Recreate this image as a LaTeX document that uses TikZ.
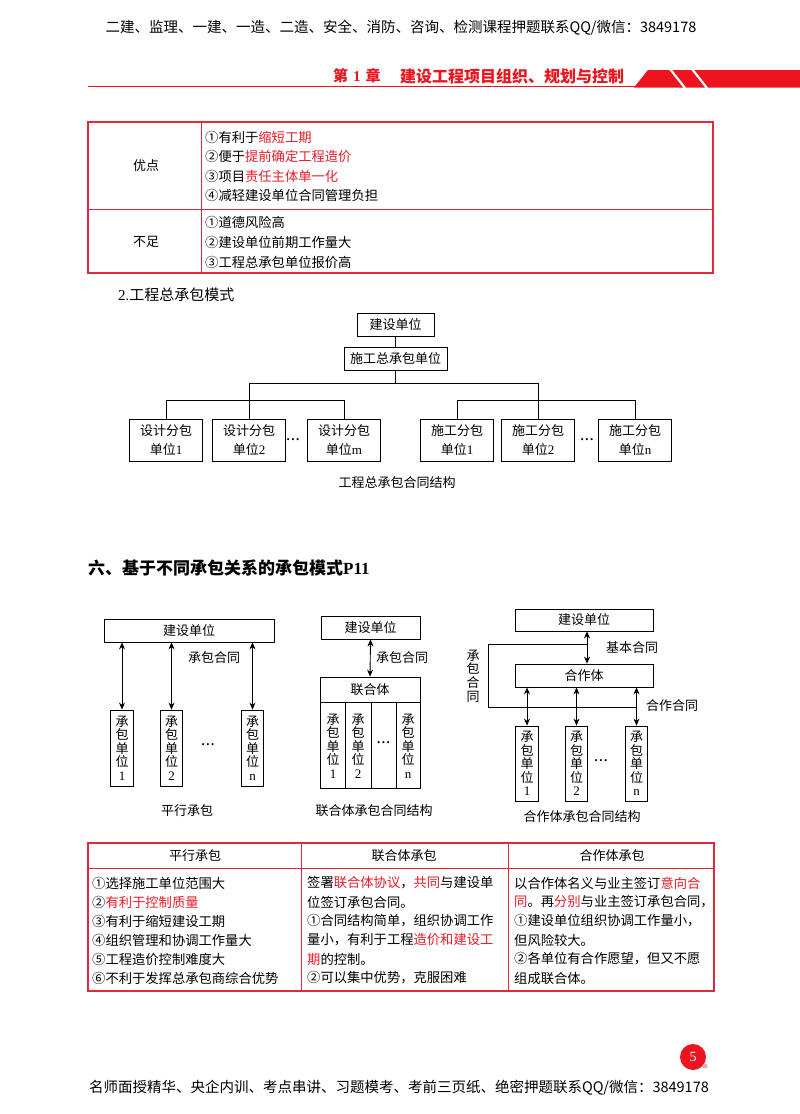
\documentclass[tikz,border=0pt]{standalone}
\usepackage{fontspec}
\setmainfont{Noto Sans CJK SC}
\newfontfamily\lat{Liberation Serif}
\usetikzlibrary{arrows.meta}
\definecolor{hl}{RGB}{232,28,40}
\definecolor{bd}{RGB}{226,40,60}
\definecolor{band}{RGB}{236,20,30}
\newcommand\hl[1]{\textcolor{hl}{#1}}
\newcommand\fsz[1]{\fontsize{#1}{#1}\selectfont}
\newcommand\dotsrow{\textbf{\lat .\hspace{1.6pt}.\hspace{1.6pt}.}}
\tikzset{
  tbox/.style={draw, line width=0.8pt, inner sep=0pt, align=center, font=\fontsize{13}{19}\selectfont},
  vbox/.style={draw, line width=0.8pt, inner sep=0pt, align=center, minimum width=22.5pt, font=\fontsize{13}{13.6}\selectfont},
  vtxt/.style={inner sep=0pt, align=center, font=\fontsize{13}{13.6}\selectfont},
  arr/.style={{Stealth[length=7pt,width=6pt]}-{Stealth[length=7pt,width=6pt]}, line width=0.9pt},
  lnst/.style={line width=0.8pt},
  txt/.style={inner sep=0pt, font=\fsz{13}},
  dotst/.style={inner sep=0pt, font=\fsz{13}},
  ttxt/.style={inner sep=0pt, font=\fsz{13.3}, anchor=west},
  captxt/.style={inner sep=0pt, font=\fsz{13}},
}
\begin{document}
\begin{tikzpicture}[x=1pt,y=-1pt]
\fill[white] (0,0) rectangle (800,1114);
\useasboundingbox (0,0) rectangle (800,1114);

% ---------- header ----------
\node[inner sep=0pt, font=\fsz{14.5}] (toptext) at (401,28) {二建、监理、一建、一造、二造、安全、消防、咨询、检测课程押题联系QQ/微信：3849178};
\draw[band, line width=1.5pt] (88,86.5) -- (640,86.5);
\fill[band] (634,87.5) -- (648,70) -- (800,70) -- (800,87.5) -- cycle;
\draw[white, line width=2.2pt] (670,69) -- (685,88);
\draw[white, line width=2.2pt] (692,69) -- (707,88);
\node[inner sep=0pt, anchor=west, text=band, font=\fsz{15}\bfseries] (chapno) at (333,76) {第\hspace{5pt}{\lat 1}\hspace{5pt}章};
\node[inner sep=0pt, anchor=west, text=band, font=\fsz{16}\bfseries] (chaptitle) at (400,76) {建设工程项目组织、规划与控制};

% ---------- table 1 ----------
\draw[bd, line width=1.2pt] (88,122) rectangle (713,273);
\draw[bd, line width=0.9pt] (88,209) -- (713,209);
\draw[bd, line width=0.9pt] (201,122) -- (201,273);
\node[txt] (yd) at (146,166) {优点};
\node[txt] (bz) at (146,242) {不足};
\node[ttxt] (y1) at (205,137) {①有利于\hl{缩短工期}};
\node[ttxt] (y2) at (205,156) {②便于\hl{提前确定工程造价}};
\node[ttxt] (y3) at (205,176) {③项目\hl{责任主体单一化}};
\node[ttxt] (y4) at (205,195) {④减轻建设单位合同管理负担};
\node[ttxt] (b1) at (205,222) {①道德风险高};
\node[ttxt] (b2) at (205,242) {②建设单位前期工作量大};
\node[ttxt] (b3) at (205,262) {③工程总承包单位报价高};

% ---------- diagram 1 ----------
\node[inner sep=0pt, anchor=west, font=\fsz{15}] (h2) at (118,295) {{\lat 2.}工程总承包模式};
\node[tbox, minimum width=77, minimum height=23] (js1) at (395.5,324.5) {建设单位};
\node[tbox, minimum width=103, minimum height=23] (sg) at (395.5,359) {施工总承包单位};
\node[tbox, minimum width=73, minimum height=42] (d1) at (166,440) {设计分包\\单位{\lat 1}};
\node[tbox, minimum width=73, minimum height=42] (d2) at (249,440) {设计分包\\单位{\lat 2}};
\node[tbox, minimum width=73, minimum height=42] (dm) at (344,440) {设计分包\\单位{\lat m}};
\node[tbox, minimum width=73, minimum height=42] (s1) at (457,440) {施工分包\\单位{\lat 1}};
\node[tbox, minimum width=73, minimum height=42] (s2) at (538,440) {施工分包\\单位{\lat 2}};
\node[tbox, minimum width=73, minimum height=42] (sn) at (635,440) {施工分包\\单位{\lat n}};
\node[dotst] (dots1) at (293,440) {\dotsrow};
\node[dotst] (dots2) at (587,440) {\dotsrow};
\coordinate (busL) at (249,383);
\coordinate (busR) at (538,383);
\draw[lnst] (js1.south) -- (sg.north);
\draw[lnst] (sg.south) -- (sg.south |- busL);
\draw[lnst] (busL) -- (busR);
\draw[lnst] (busL) -- (d2.north);
\draw[lnst] (busR) -- (s2.north);
\draw[lnst] (d1.north) -- ++(0,-18) -| (dm.north);
\draw[lnst] (s1.north) -- ++(0,-18) -| (sn.north);
\node[captxt] (cap1) at (397,483) {工程总承包合同结构};

% ---------- section title ----------
\node[inner sep=0pt, anchor=west, font=\fsz{17}\bfseries] (sec) at (88,568) {六、基于不同承包关系的承包模式{\lat P11}};

% ---------- diagram 2: parallel ----------
\node[tbox, minimum width=170, minimum height=23] (js2) at (189,630.5) {建设单位};
\node[vbox, minimum height=76] (p1) at (122,748) {承\\包\\单\\位\\{\lat 1}};
\node[vbox, minimum height=76] (p2) at (171.5,748) {承\\包\\单\\位\\{\lat 2}};
\node[vbox, minimum height=76] (pn) at (252.5,748) {承\\包\\单\\位\\{\lat n}};
\draw[arr] (js2.south -| p1.north) -- (p1.north);
\draw[arr] (js2.south -| p2.north) -- (p2.north);
\draw[arr] (js2.south -| pn.north) -- (pn.north);
\node[txt] (pl) at (214,658) {承包合同};
\node[dotst] (pdots) at (208,745) {\dotsrow};
\node[captxt] (cap2) at (187,811) {平行承包};

% ---------- diagram 3: joint venture ----------
\node[tbox, minimum width=99, minimum height=23] (js3) at (370.5,627.5) {建设单位};
\node[draw, line width=0.8pt, inner sep=0pt, minimum width=100, minimum height=111] (lh) at (370,732.5) {};
\draw[lnst] (320,702) -- (420,702);
\draw[lnst] (345.5,702) -- (345.5,788);
\draw[lnst] (371,702) -- (371,788);
\draw[lnst] (396,702) -- (396,788);
\node[txt] (lht) at (370,689.5) {联合体};
\node[vtxt] (l1) at (333,746) {承\\包\\单\\位\\{\lat 1}};
\node[vtxt] (l2) at (358,746) {承\\包\\单\\位\\{\lat 2}};
\node[dotst] (ldots) at (383.5,743) {\dotsrow};
\node[vtxt] (ln4) at (408,746) {承\\包\\单\\位\\{\lat n}};
\draw[arr] (js3.south) -- (lh.north);
\node[txt, anchor=west] (ll) at (376,658) {承包合同};
\node[captxt] (cap3) at (374,811) {联合体承包合同结构};

% ---------- diagram 4: cooperative ----------
\node[tbox, minimum width=138, minimum height=22] (js4) at (584,620) {建设单位};
\node[tbox, minimum width=138, minimum height=23] (hz) at (584,675.5) {合作体};
\node[vbox, minimum height=75] (c1) at (527,763.5) {承\\包\\单\\位\\{\lat 1}};
\node[vbox, minimum height=75] (c2) at (576.5,763.5) {承\\包\\单\\位\\{\lat 2}};
\node[vbox, minimum height=75] (c3) at (636.5,763.5) {承\\包\\单\\位\\{\lat n}};
\coordinate (a4) at (587,644);
\coordinate (L1) at (488,644);
\coordinate (L2) at (488,707);
\draw[arr] (js4.south -| a4) -- (hz.north -| a4);
\draw[arr] (hz.south -| c1.north) -- (c1.north);
\draw[arr] (hz.south -| c2.north) -- (c2.north);
\draw[arr] (hz.south -| c3.north) -- (c3.north);
\draw[lnst] (a4) -- (L1) -- (L2) -- (L2 -| c3.north);
\node[txt] (jb) at (632,648) {基本合同};
\node[txt] (hzl) at (672,706) {合作合同};
\node[vtxt] (cbl) at (473,676) {承\\包\\合\\同};
\node[dotst] (cdots) at (601,761) {\dotsrow};
\node[captxt] (cap4) at (582,817) {合作体承包合同结构};

% ---------- table 2 ----------
\draw[bd, line width=1.2pt] (88,843) rectangle (714,991);
\draw[bd, line width=0.9pt] (88,868) -- (714,868);
\draw[bd, line width=0.9pt] (301,843) -- (301,991);
\draw[bd, line width=0.9pt] (508,843) -- (508,991);
\node[txt] (th1) at (195,856) {平行承包};
\node[txt] (th2) at (404,856) {联合体承包};
\node[txt] (th3) at (612,856) {合作体承包};
\node[ttxt] (r11) at (92,883) {①选择施工单位范围大};
\node[ttxt] (r12) at (92,902) {②\hl{有利于控制质量}};
\node[ttxt] (r13) at (92,921) {③有利于缩短建设工期};
\node[ttxt] (r14) at (92,940) {④组织管理和协调工作量大};
\node[ttxt] (r15) at (92,959) {⑤工程造价控制难度大};
\node[ttxt] (r16) at (92,978) {⑥不利于发挥总承包商综合优势};
\node[ttxt] (r21) at (307,883) {签署\hl{联合体协议}，\hl{共同}与建设单};
\node[ttxt] (r22) at (307,902) {位签订承包合同。};
\node[ttxt] (r23) at (307,921) {①合同结构简单，组织协调工作};
\node[ttxt] (r24) at (307,940) {量小，有利于工程\hl{造价和建设工}};
\node[ttxt] (r25) at (307,959) {\hl{期}的控制。};
\node[ttxt] (r26) at (307,978) {②可以集中优势，克服困难};
\node[ttxt] (r31) at (514,883) {以合作体名义与业主签订\hl{意向合}};
\node[ttxt] (r32) at (514,902) {\hl{同}。再\hl{分别}与业主签订承包合同，};
\node[ttxt] (r33) at (514,921) {①建设单位组织协调工作量小，};
\node[ttxt] (r34) at (514,940) {但风险较大。};
\node[ttxt] (r35) at (514,959) {②各单位有合作愿望，但又不愿};
\node[ttxt] (r36) at (514,978) {组成联合体。};

% ---------- footer ----------
\node[circle, fill=band, minimum size=26pt, inner sep=0pt, text=white, font=\lat\fsz{14}] (pg) at (693,1057) {5};
\fill[red!35] (705,1066) circle (2.5);
\node[inner sep=0pt, font=\fsz{14.5}] (foot) at (399,1088) {名师面授精华、央企内训、考点串讲、习题模考、考前三页纸、绝密押题联系QQ/微信：3849178};
\end{tikzpicture}
\end{document}
